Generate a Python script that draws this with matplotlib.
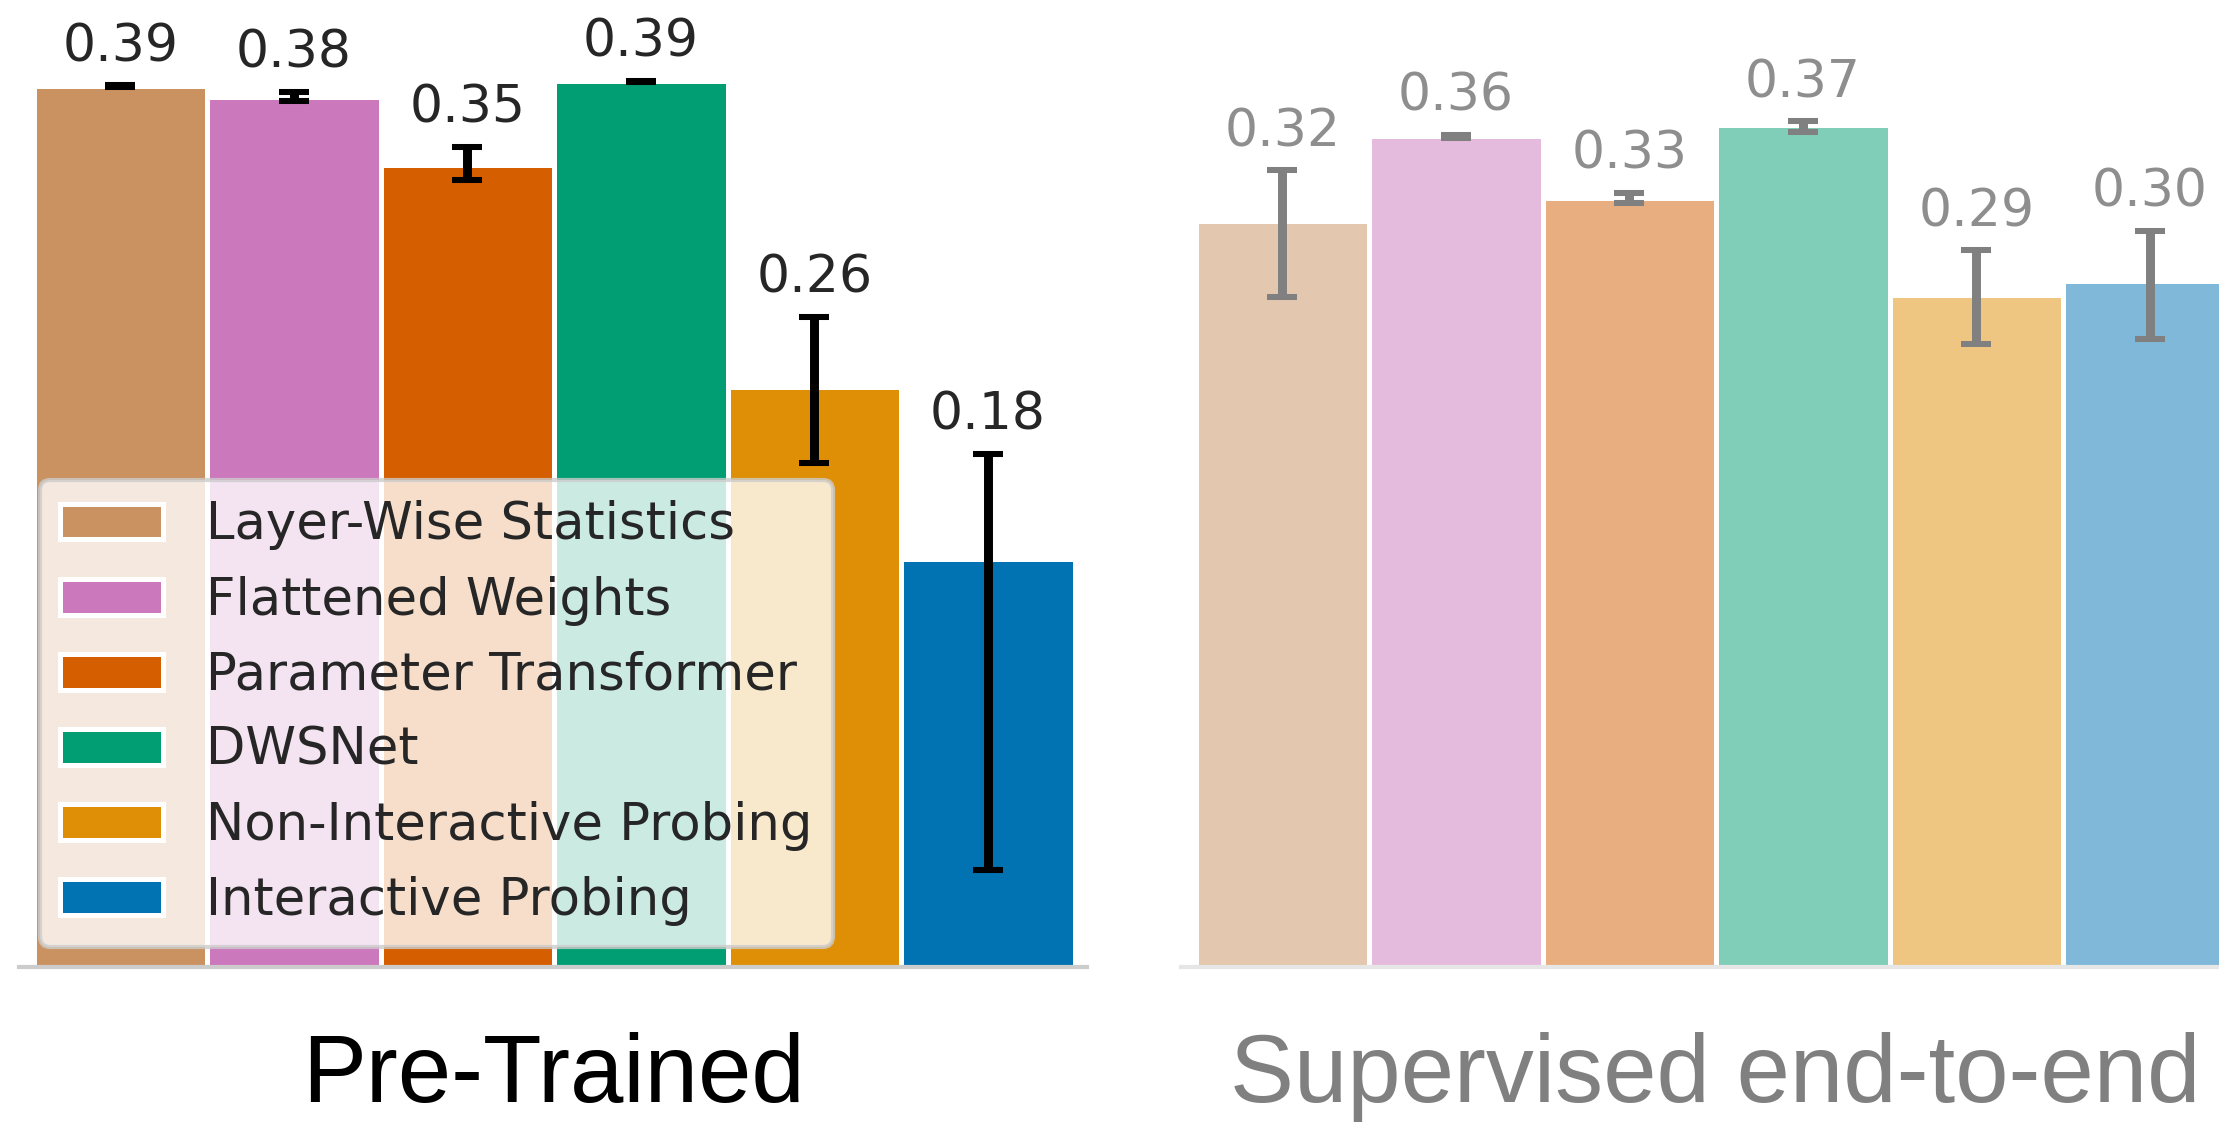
import matplotlib
matplotlib.use("Agg")
import matplotlib.pyplot as plt
import matplotlib.colors as mcolors

# Methods compared, one bar per method in each panel
methods = ["Layer-Wise Statistics", "Flattened Weights", "Parameter Transformer",
           "DWSNet", "Non-Interactive Probing", "Interactive Probing"]
colors = ["#CA9161", "#CC78BC", "#D55E00", "#029E73", "#DE8F05", "#0173B2"]

# Pre-trained setting: scores with lower / upper ends of the error bars
pretrained = [0.389, 0.384, 0.354, 0.391, 0.256, 0.18]
pretrained_lo = [0.3884, 0.3825, 0.3475, 0.3907, 0.2227, 0.0428]
pretrained_hi = [0.3893, 0.3864, 0.3620, 0.3913, 0.2870, 0.2266]

# Supervised end-to-end setting
supervised = [0.324, 0.361, 0.334, 0.366, 0.292, 0.298]
supervised_lo = [0.2912, 0.3601, 0.3322, 0.3628, 0.2708, 0.2729]
supervised_hi = [0.3462, 0.3616, 0.3364, 0.3675, 0.3115, 0.3200]

groups = ["Pre-Trained", "Supervised end-to-end"]

plt.rcParams["font.family"] = "DejaVu Sans"

DPI = 300
W, H = 2219, 1122
fig = plt.figure(figsize=(W / DPI, H / DPI), dpi=DPI)

ax_w = 1068 / W
ax_b = (H - 967) / H
ax_h = 967 / H

panels = [
    dict(left=19 / W, vals=pretrained, lo=pretrained_lo, hi=pretrained_hi,
         ytop=967 / 2265, faded=False),
    dict(left=1181 / W, vals=supervised, lo=supervised_lo, hi=supervised_hi,
         ytop=967 / 2301, faded=True),
]

for group, p in zip(groups, panels):
    ax = fig.add_axes([p["left"], ax_b, ax_w, ax_h])
    ax.patch.set_visible(False)
    a = 0.5 if p["faded"] else 1.0
    ink = "#808080" if p["faded"] else "black"
    txt = "#8e8e8e" if p["faded"] else "#262626"
    vals, lo, hi = p["vals"], p["lo"], p["hi"]
    x = list(range(len(vals)))

    for i, v in enumerate(vals):
        ax.bar(i, v, width=1.0, color=mcolors.to_rgba(colors[i], a),
               edgecolor="white", linewidth=1.2, label=methods[i], zorder=1)

    yerr = [[v - l for v, l in zip(vals, lo)], [h - v for v, h in zip(vals, hi)]]
    ax.errorbar(x, vals, yerr=yerr, fmt="none", ecolor=ink,
                elinewidth=2.15, capsize=3.7, capthick=1.45, zorder=3)

    for i, v in enumerate(vals):
        ax.annotate(f"{v:.2f}", (i, hi[i]), xytext=(0, 5.8), textcoords="offset points",
                    ha="center", va="baseline", fontsize=12.5, color=txt,
                    annotation_clip=False)

    ax.set_xlim(-0.5836, 5.572)
    ax.set_ylim(0, p["ytop"])
    for s in ["left", "right", "top"]:
        ax.spines[s].set_visible(False)
    ax.spines["bottom"].set_color("#e6e6e6" if p["faded"] else "#cccccc")
    ax.spines["bottom"].set_linewidth(1.0)
    ax.set_xticks([])
    ax.set_yticks([])

    ax.text(0.5, -(1102 - 967) / 967, group, transform=ax.transAxes, ha="center",
            va="baseline", fontsize=23, family="Liberation Sans",
            color="#808080" if p["faded"] else "black")

    if not p["faded"]:
        leg = ax.legend(loc="lower left", fontsize=12.3, frameon=True, fancybox=True,
                        framealpha=0.8, edgecolor="#cccccc", borderaxespad=0.4,
                        labelspacing=0.49, handlelength=2.0, handleheight=0.7,
                        handletextpad=0.85, borderpad=0.4)
        for t in leg.get_texts():
            t.set_color("#262626")
        leg.get_frame().set_linewidth(1.0)
        leg.set_zorder(5)

fig.savefig("out.png", dpi=DPI)
